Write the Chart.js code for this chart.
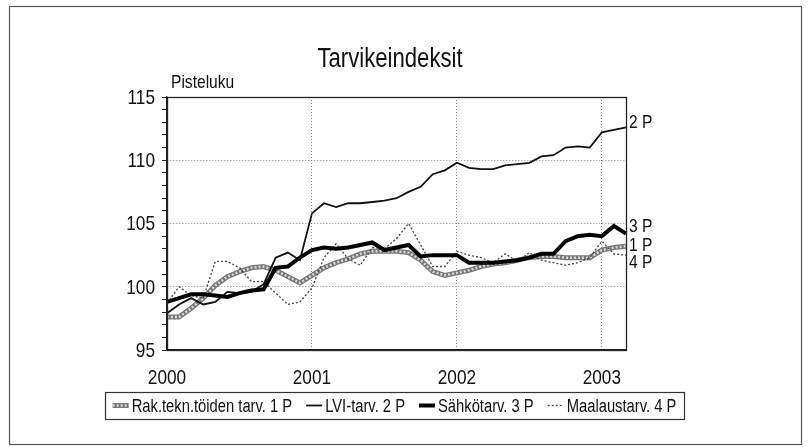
<!DOCTYPE html>
<html>
<head>
<meta charset="utf-8">
<script src="https://cdn.jsdelivr.net/npm/chart.js@4.4.1/dist/chart.umd.min.js"></script>
<style>
    html, body { margin: 0; padding: 0; background: #fff; }
    #wrap { width: 810px; height: 447px; }
</style>
</head>
<body>
<div id="wrap"><canvas id="chart" width="810" height="447"></canvas></div>
<script>
    const months = [
        '2000-01', '2000-02', '2000-03', '2000-04', '2000-05', '2000-06', '2000-07', '2000-08', '2000-09', '2000-10', '2000-11', '2000-12',
        '2001-01', '2001-02', '2001-03', '2001-04', '2001-05', '2001-06', '2001-07', '2001-08', '2001-09', '2001-10', '2001-11', '2001-12',
        '2002-01', '2002-02', '2002-03', '2002-04', '2002-05', '2002-06', '2002-07', '2002-08', '2002-09', '2002-10', '2002-11', '2002-12',
        '2003-01', '2003-02', '2003-03',
    ];

    // Rak.tekn.töiden tarv. 1 P
    const rakTekn = [
        97.6, 97.6, 98.3, 99.1, 100.1, 100.8, 101.2, 101.5, 101.6, 101.3, 100.8, 100.3,
        100.9, 101.5, 101.9, 102.2, 102.6, 102.8, 102.8, 102.8, 102.7, 102.1, 101.2, 100.9,
        101.1, 101.3, 101.6, 101.8, 101.9, 102.1, 102.3, 102.4, 102.4, 102.3, 102.3, 102.3,
        102.9, 103.1, 103.2,
    ];
    // LVI-tarv. 2 P
    const lvi = [
        97.9, 98.6, 99.1, 98.6, 98.8, 99.6, 99.5, 99.6, 100.2, 102.3, 102.7, 102.1,
        105.8, 106.6, 106.3, 106.6, 106.6, 106.7, 106.8, 107.0, 107.5, 107.9, 108.9, 109.2,
        109.8, 109.4, 109.3, 109.3, 109.6, 109.7, 109.8, 110.3, 110.4, 111.0, 111.1, 111.0,
        112.2, 112.4, 112.6,
    ];
    // Sähkötarv. 3 P
    const sahko = [
        98.8, 99.1, 99.4, 99.4, 99.3, 99.2, 99.5, 99.7, 99.8, 101.5, 101.6, 102.3,
        102.9, 103.1, 103.0, 103.1, 103.3, 103.5, 102.9, 103.1, 103.3, 102.4, 102.5, 102.5,
        102.5, 101.9, 101.9, 101.9, 102.0, 102.1, 102.3, 102.6, 102.6, 103.6, 104.0, 104.1,
        104.0, 104.8, 104.2,
    ];
    // Maalaustarv. 4 P
    const maalaus = [
        98.7, 100.0, 99.3, 99.1, 102.0, 102.0, 101.5, 100.4, 100.4, 99.5, 98.6, 98.8,
        99.9, 102.3, 103.4, 102.2, 101.7, 103.1, 103.0, 103.8, 105.0, 103.3, 101.6, 101.6,
        102.8, 102.5, 102.3, 101.9, 102.6, 102.0, 102.7, 102.1, 101.9, 101.7, 101.9, 102.3,
        103.6, 102.6, 102.5,
    ];

    const legendLabels = ['Rak.tekn.töiden tarv. 1 P', 'LVI-tarv. 2 P', 'Sähkötarv. 3 P', 'Maalaustarv. 4 P'];
    const endLabels = ['1 P', '2 P', '3 P', '4 P'];
    const endLabelShift = [-1, -5, -7, 8];

    const FONT = "'Liberation Sans', Arial, sans-serif";
    const NARROW = 0.82; // the original uses a condensed Helvetica
    const DOT_GRID = '#8a8a8a';

    // condensed text: canvas text squeezed horizontally
    function narrowText(ctx, text, x, y, size, align) {
        ctx.save();
        ctx.font = `${size}px ${FONT}`;
        ctx.translate(x, y);
        ctx.scale(NARROW, 1);
        ctx.textAlign = align || 'left';
        ctx.fillText(text, 0, 0);
        ctx.restore();
    }

    function narrowWidth(ctx, text, size) {
        ctx.save();
        ctx.font = `${size}px ${FONT}`;
        const w = ctx.measureText(text).width * NARROW;
        ctx.restore();
        return w;
    }

    function drawSample(ctx, idx, x, y, w) {
        ctx.save();
        ctx.beginPath();
        ctx.moveTo(x, y);
        ctx.lineTo(x + w, y);
        if (idx === 0) {
            ctx.strokeStyle = '#777'; ctx.lineWidth = 5; ctx.stroke();
            ctx.setLineDash([2, 2]); ctx.strokeStyle = '#d8d8d8'; ctx.lineWidth = 2.5; ctx.stroke();
        } else if (idx === 1) {
            ctx.strokeStyle = '#111'; ctx.lineWidth = 1.8; ctx.stroke();
        } else if (idx === 2) {
            ctx.strokeStyle = '#000'; ctx.lineWidth = 4; ctx.stroke();
        } else {
            ctx.setLineDash([2, 2]); ctx.strokeStyle = '#444'; ctx.lineWidth = 1.3; ctx.stroke();
        }
        ctx.restore();
    }

    const decorations = {
        id: 'decorations',
        beforeDraw(chart) {
            const ctx = chart.ctx;
            ctx.save();
            ctx.fillStyle = '#fff';
            ctx.fillRect(0, 0, chart.width, chart.height);
            ctx.strokeStyle = '#555';
            ctx.lineWidth = 1.2;
            ctx.strokeRect(9.5, 6.5, 792, 438);
            ctx.restore();
        },
        afterDatasetsDraw(chart) {
            const ctx = chart.ctx;
            const a = chart.chartArea;
            const xScale = chart.scales.x;
            const yScale = chart.scales.y;
            ctx.save();

            ctx.strokeStyle = '#222';
            ctx.lineWidth = 1.3;
            ctx.strokeRect(a.left + 0.5, a.top + 0.5, a.right - a.left, a.bottom - a.top);

            ctx.fillStyle = '#111';
            ctx.textBaseline = 'alphabetic';
            narrowText(ctx, 'Tarvikeindeksit', 390, 67, 27, 'center');
            narrowText(ctx, 'Pisteluku', a.left + 4, 88, 19, 'left');

            // tick labels
            ctx.textBaseline = 'middle';
            yScale.ticks.forEach((t, i) => {
                if (t.value % 5 !== 0) return;
                narrowText(ctx, String(t.value), a.left - 12, yScale.getPixelForTick(i) + 1, 21, 'right');
            });
            ctx.textBaseline = 'alphabetic';
            xScale.ticks.forEach((t, i) => {
                const m = months[t.value];
                if (!m.endsWith('-01')) return;
                narrowText(ctx, m.slice(0, 4), xScale.getPixelForTick(i), a.bottom + 34, 21, 'center');
            });

            // end-of-line labels
            const series = [rakTekn, lvi, sahko, maalaus];
            ctx.textBaseline = 'middle';
            series.forEach((s, i) => {
                const y = yScale.getPixelForValue(s[s.length - 1]) + endLabelShift[i];
                narrowText(ctx, endLabels[i], a.right + 3, y, 19, 'left');
            });

            // legend box
            const box = { x: 105, y: 392, w: 579, h: 27 };
            ctx.strokeStyle = '#333';
            ctx.lineWidth = 1.2;
            ctx.strokeRect(box.x + 0.5, box.y + 0.5, box.w, box.h);
            ctx.textBaseline = 'alphabetic';
            const sampleW = 16, gapIn = 3, gapOut = 14, size = 18;
            const widths = legendLabels.map((t) => narrowWidth(ctx, t, size));
            const total = widths.reduce((s, w) => s + sampleW + gapIn + w, 0) + gapOut * (legendLabels.length - 1);
            let x = box.x + (box.w - total) / 2;
            const cy = box.y + box.h / 2;
            legendLabels.forEach((t, i) => {
                drawSample(ctx, i, x, cy, sampleW);
                x += sampleW + gapIn;
                narrowText(ctx, t, x, cy + 6.5, size, 'left');
                x += widths[i] + gapOut;
            });
            ctx.restore();
        },
    };

    new Chart(document.getElementById('chart'), {
        type: 'line',
        data: {
            labels: months,
            datasets: [
                { label: legendLabels[0], data: rakTekn, borderColor: '#777', borderWidth: 5, order: 5 },
                { label: legendLabels[0] + ' (kuvio)', data: rakTekn, borderColor: '#d8d8d8', borderWidth: 2.5, borderDash: [2, 2], order: 4 },
                { label: legendLabels[3], data: maalaus, borderColor: '#444', borderWidth: 1.3, borderDash: [2, 2], order: 3 },
                { label: legendLabels[1], data: lvi, borderColor: '#111', borderWidth: 1.8, order: 2 },
                { label: legendLabels[2], data: sahko, borderColor: '#000', borderWidth: 4, order: 1 },
            ],
        },
        options: {
            responsive: false,
            animation: false,
            elements: { point: { radius: 0 }, line: { tension: 0, borderCapStyle: 'butt', borderJoinStyle: 'miter' } },
            layout: { padding: { left: 0, right: 184, top: 97, bottom: 0 } },
            plugins: { legend: { display: false }, title: { display: false }, tooltip: { enabled: false } },
            scales: {
                x: {
                    type: 'category',
                    offset: false,
                    afterFit(scale) { scale.height = 97; },
                    grid: {
                        drawTicks: false,
                        color: (c) => (c.tick && c.index > 0 && months[c.index] && months[c.index].endsWith('-01')) ? DOT_GRID : 'rgba(0,0,0,0)',
                        lineWidth: 1,
                    },
                    border: { display: true, color: '#222', width: 1.3, dash: [1, 2] },
                    ticks: { display: false, autoSkip: false, maxRotation: 0 },
                },
                y: {
                    min: 95,
                    max: 115,
                    afterFit(scale) { scale.width = 167; },
                    grid: {
                        color: (c) => (c.tick && c.tick.value % 5 === 0 && c.tick.value > 95 && c.tick.value < 115) ? DOT_GRID : 'rgba(0,0,0,0)',
                        tickColor: '#222',
                        tickLength: 5,
                        lineWidth: 1,
                    },
                    border: { display: true, color: '#222', width: 1.3, dash: [1, 2] },
                    ticks: { display: false, stepSize: 1, autoSkip: false },
                },
            },
        },
        plugins: [decorations],
    });
</script>
</body>
</html>
